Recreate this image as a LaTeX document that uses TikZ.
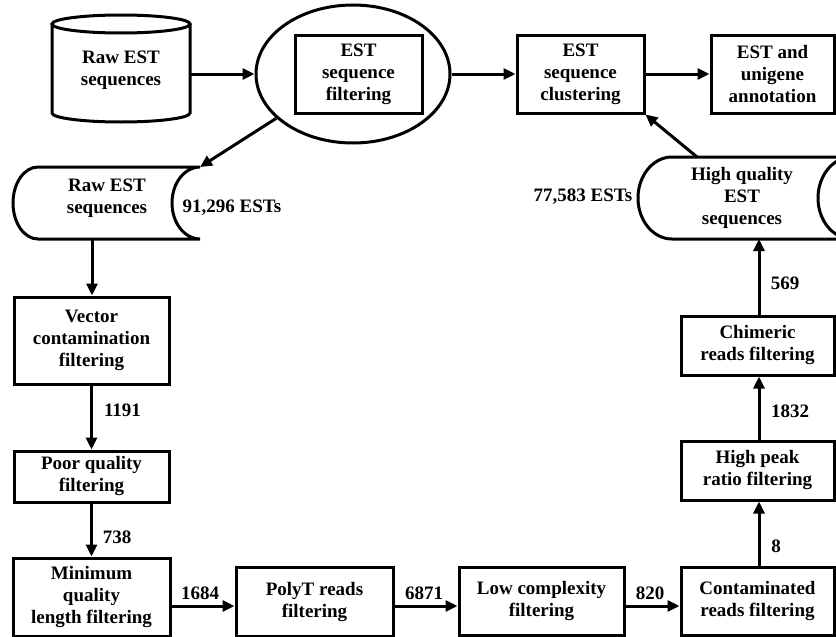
\documentclass[tikz,border=0pt]{standalone}
\usepackage{fontspec}
\setmainfont{Liberation Serif}
\usetikzlibrary{shapes.geometric,arrows.meta,calc}
\begin{document}
\begin{tikzpicture}[x=1pt,y=-1pt,
  every node/.style={font=\fontsize{19}{22}\selectfont\bfseries, align=center},
  proc/.style={draw, line width=3pt, inner sep=0pt},
  conn/.style={line width=3pt, -{Triangle[length=12pt,width=11pt]}},
  lab/.style={inner sep=0pt},
  shp/.style={line width=3pt}]
\useasboundingbox (0,0) rectangle (836,637);
\clip (0,0) rectangle (836,637);

% cylinder
\draw[shp] (121,24) ellipse [x radius=69pt, y radius=9pt];
\draw[shp] (52,24) -- (52,113) arc[start angle=180, end angle=360, x radius=69pt, y radius=9pt] -- (190,24);
\node[minimum width=138pt, inner sep=0pt] (cyl) at (121,70) {Raw EST\\sequences};

% ellipse with inner box
\node[draw, ellipse, line width=3pt, minimum width=194pt, minimum height=138pt, inner sep=0pt] (ell) at (353,74) {};
\node[proc, minimum width=127pt, minimum height=78pt] (filt) at (358.5,74) {EST\\sequence\\filtering};

\node[proc, minimum width=127pt, minimum height=78pt] (clus) at (580.5,74) {EST\\sequence\\clustering};
\node[proc, minimum width=123pt, minimum height=78pt] (annot) at (772.5,74) {EST and\\unigene\\annotation};

% raw storage
\draw[shp] (38,167) -- (200,167) arc[start angle=90, end angle=270, x radius=28pt, y radius=36pt] -- (38,239) arc[start angle=270, end angle=90, x radius=25pt, y radius=36pt] -- cycle;
\node[lab] (raw) at (107,198) {Raw EST\\sequences};
\node[lab] (rawn) at (232,208) {91,296 ESTs};
\coordinate (rawtr) at (200,167);
\coordinate (rawbot) at (92,239);

% high quality storage
\draw[shp] (672,157) -- (852,157) arc[start angle=90, end angle=270, x radius=34pt, y radius=41pt] -- (672,239) arc[start angle=270, end angle=90, x radius=34pt, y radius=41pt] -- cycle;
\node[lab] (hq) at (742,198) {High quality\\EST\\sequences};
\node[lab] (hqn) at (583,197) {77,583 ESTs};
\coordinate (hqtop) at (697,157);
\coordinate (hqbot) at (759,239);

% left column
\node[proc, minimum width=155pt, minimum height=87pt] (vec) at (91.5,340.5) {Vector\\contamination\\filtering};
\node[proc, minimum width=155pt, minimum height=51pt] (poor) at (91.5,476.5) {Poor quality\\filtering};
\node[proc, minimum width=157pt, minimum height=78pt] (minq) at (91.5,597) {Minimum\\quality\\length filtering};

% bottom row
\node[proc, minimum width=157pt, minimum height=69pt] (poly) at (314.5,601.5) {PolyT reads\\filtering};
\node[proc, minimum width=165pt, minimum height=68pt] (low) at (541.5,601) {Low complexity\\filtering};
\node[proc, minimum width=153pt, minimum height=68pt] (cont) at (757.5,601) {Contaminated\\reads filtering};

% right column
\node[proc, minimum width=153pt, minimum height=59pt] (peak) at (757.5,470.5) {High peak\\ratio filtering};
\node[proc, minimum width=153pt, minimum height=59pt] (chim) at (757.5,345.5) {Chimeric\\reads filtering};

% connectors
\draw[conn] (cyl.east |- ell.west) -- (ell.west);
\draw[conn] (ell.east) -- (clus.west);
\draw[conn] (clus.east) -- (annot.west);
\draw[conn] (ell.210) -- (rawtr);
\draw[conn] (rawbot) -- (rawbot |- vec.north);
\draw[conn] (vec.south) -- (vec.south |- poor.north);
\draw[conn] (poor.south) -- (poor.south |- minq.north);
\coordinate (hy) at (0,606);
\draw[conn] (minq.east |- hy) -- (poly.west |- hy);
\draw[conn] (poly.east |- hy) -- (low.west |- hy);
\draw[conn] (low.east |- hy) -- (cont.west |- hy);
\coordinate (vx) at (759,0);
\draw[conn] (cont.north -| vx) -- (peak.south -| vx);
\draw[conn] (peak.north -| vx) -- (chim.south -| vx);
\draw[conn] (chim.north -| vx) -- (hqbot);
\draw[conn] (hqtop) -- (clus.south east);

% counts
\node[lab] (n1191) at (122.5,410) {1191};
\node[lab] (n738) at (117,537) {738};
\node[lab] (n1684) at (200,593) {1684};
\node[lab] (n6871) at (424,593) {6871};
\node[lab] (n820) at (650,593) {820};
\node[lab] (n8) at (776,546) {8};
\node[lab] (n1832) at (790,411) {1832};
\node[lab] (n569) at (785,283) {569};
\end{tikzpicture}
\end{document}
